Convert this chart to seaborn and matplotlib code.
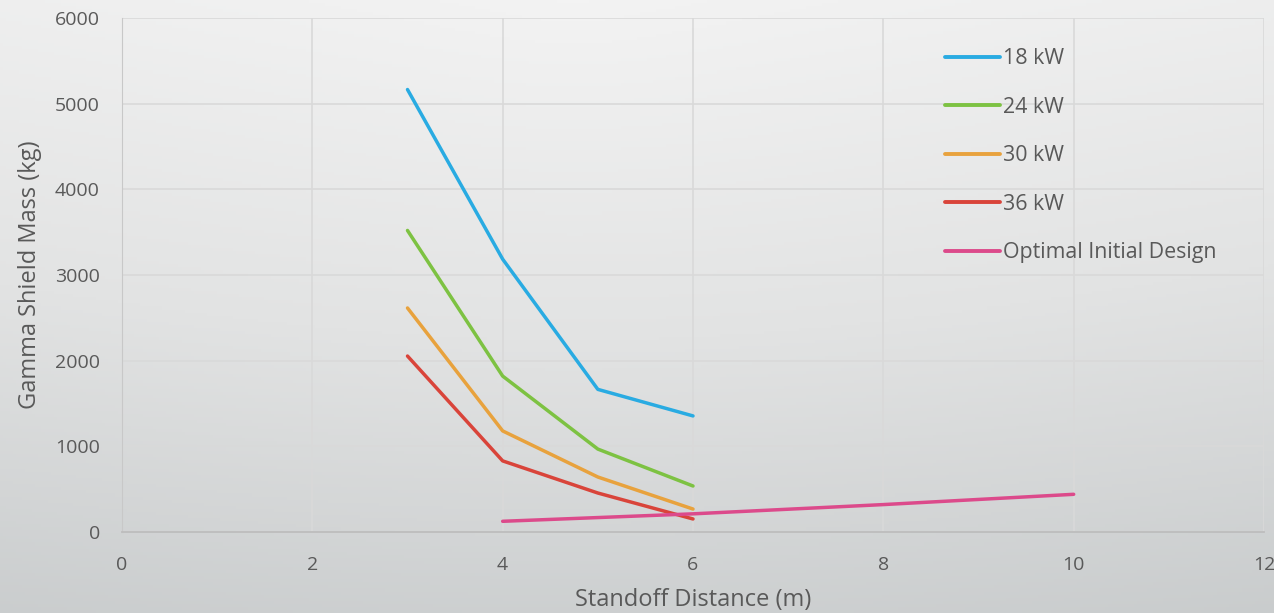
import numpy as np
import pandas as pd
import matplotlib
matplotlib.use('Agg')
import matplotlib.pyplot as plt
import seaborn as sns
from matplotlib.colors import LinearSegmentedColormap

sns.set_style('white')
plt.rcParams['font.family'] = ['Open Sans', 'DejaVu Sans']

# Data
standoff = [3, 4, 5, 6]
mass_18kw = [5165, 3185, 1665, 1355]
mass_24kw = [3520, 1820, 968, 537]
mass_30kw = [2615, 1180, 642, 268]
mass_36kw = [2054, 830, 455, 152]

opt_standoff = [4, 6, 8, 10]
opt_mass = [125, 212, 320, 440]

series_names = ['18 kW', '24 kW', '30 kW', '36 kW', 'Optimal Initial Design']
colors = ['#29abe2', '#7dc242', '#e8a23d', '#d9443a', '#dc4a8b']

rows = []
for name, vals in zip(series_names[:4], [mass_18kw, mass_24kw, mass_30kw, mass_36kw]):
    for x, y in zip(standoff, vals):
        rows.append({'Standoff': x, 'Mass': y, 'Series': name})
for x, y in zip(opt_standoff, opt_mass):
    rows.append({'Standoff': x, 'Mass': y, 'Series': series_names[4]})
df = pd.DataFrame(rows)

fig = plt.figure(figsize=(12.74, 6.13), dpi=100)

# gradient background
bg = fig.add_axes([0, 0, 1, 1], zorder=-10)
yy, xx = np.mgrid[0:1:200j, 0:1:400j]
grad = 0.75 * yy + 0.25 * np.sqrt(((xx - 0.45) * 1.2) ** 2 + (yy * 0.6) ** 2)
cmap = LinearSegmentedColormap.from_list('bg', ['#f3f3f3', '#e2e3e3', '#c8cbcc'])
bg.imshow(grad, cmap=cmap, aspect='auto', extent=[0, 1, 0, 1], origin='upper', vmin=0, vmax=1)
bg.axis('off')

ax = fig.add_axes([122 / 1274, 81 / 613, 1142 / 1274, 514 / 613])
ax.set_facecolor('none')

g = sns.lineplot(data=df, x='Standoff', y='Mass', hue='Series', hue_order=series_names,
                 palette=colors, linewidth=2.5, ax=ax, sort=False)

ax.set_xlim(0, 12)
ax.set_ylim(0, 6000)
ax.set_xticks(range(0, 13, 2))
ax.set_yticks(range(0, 6001, 1000))
ax.grid(True, color='#d9d9d9', linewidth=1.2)
ax.set_axisbelow(True)
for s in ['top', 'right']:
    ax.spines[s].set_visible(False)
ax.spines['left'].set_color('#c8c8c8')
ax.spines['bottom'].set_color('#bdbdbd')
ax.spines['bottom'].set_linewidth(1.3)
ax.tick_params(axis='both', length=0, labelsize=14, labelcolor='#595959')
ax.tick_params(axis='x', pad=17)
ax.tick_params(axis='y', pad=16)

ax.set_xlabel('Standoff Distance (m)', fontsize=17, color='#595959', labelpad=10)
ax.set_ylabel('Gamma Shield Mass (kg)', fontsize=17, color='#595959', labelpad=9)

leg = ax.legend(loc='upper left', bbox_to_anchor=(0.7207, 0.9414), frameon=False,
                fontsize=15.4, handlelength=2.57, handletextpad=0.12, labelspacing=1.29,
                borderpad=0, borderaxespad=0)
for t in leg.get_texts():
    t.set_color('#595959')
for h in leg.get_lines():
    h.set_linewidth(2.8)

plt.savefig('out.png', dpi=100)
